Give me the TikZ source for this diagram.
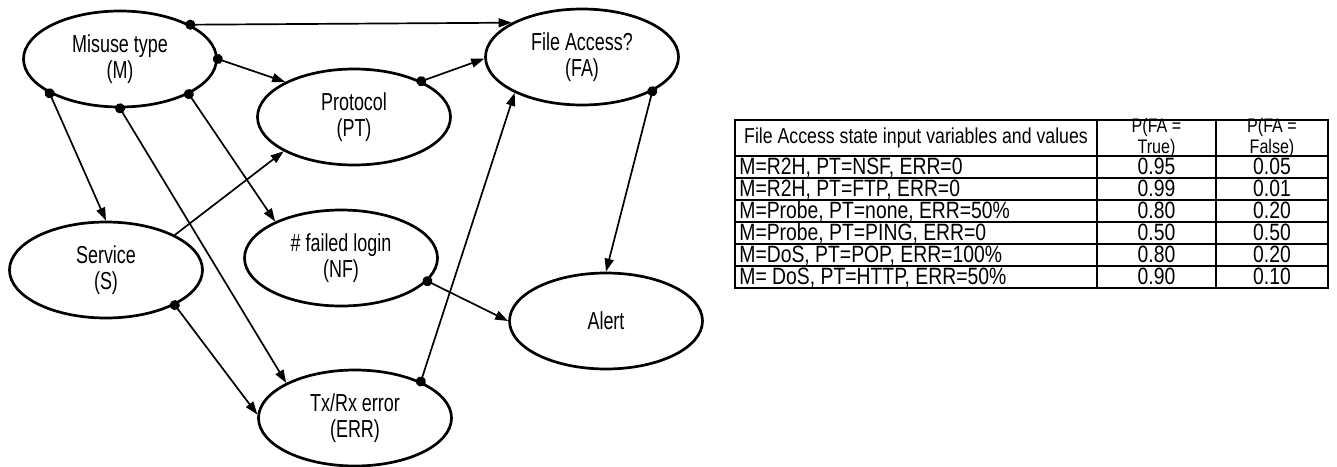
\documentclass[tikz,border=0pt]{standalone}
\usepackage{fontspec}
\setmainfont{Liberation Sans}[FakeStretch=0.82]
\newfontfamily\graphfont{Liberation Sans}[FakeStretch=0.73]
\usetikzlibrary{arrows.meta,shapes.geometric}
\begin{document}
\begin{tikzpicture}[x=0.5pt,y=-0.5pt,
  ell/.style={ellipse,draw,line width=1.35pt,minimum width=96.5pt,minimum height=48pt,inner sep=0pt,align=center,font=\graphfont\fontsize{12.3pt}{13pt}\selectfont},
  con/.style={line width=0.85pt,{Circle[length=5pt]}-{Triangle[length=6.5pt,width=4.5pt]},shorten <=-2.5pt},
  conn/.style={line width=0.85pt,-{Triangle[length=6.5pt,width=4.5pt]}},
  tline/.style={line width=1.1pt},
  ttext/.style={font=\fontsize{11.8pt}{12pt}\selectfont,inner sep=0pt},
  thead/.style={font=\fontsize{10.8pt}{9.8pt}\selectfont,inner sep=0pt,align=center},
  thead2/.style={font=\fontsize{9.8pt}{8.6pt}\selectfont,inner sep=0pt,align=center}
]
\useasboundingbox (0,0) rectangle (1337,466);
% nodes
\node[ell] (M) at (120,59) {Misuse type\\(M)};
\node[ell] (PT) at (354,117) {Protocol\\(PT)};
\node[ell] (FA) at (582,57) {File Access?\\(FA)};
\node[ell] (S) at (106,270) {Service\\(S)};
\node[ell] (NF) at (341,258) {\# failed login\\(NF)};
\node[ell] (ERR) at (355,418) {Tx/Rx error\\(ERR)};
\node[ell] (AL) at (606,321) {Alert};
% connectors
\draw[con] (M.26) -- (FA.154);
\draw[con] (M.0) -- (PT.153);
\draw[con] (M.206) -- (S.90);
\draw[con] (M.270) -- (ERR.153);
\draw[con] (M.-27) -- (NF.151);
\draw[con] (PT.28) -- (FA.181);
\draw[conn] (S.27) -- (PT.206);
\draw[con] (S.-27) -- (ERR.178);
\draw[con] (ERR.29) -- (FA.208);
\draw[con] (NF.-15) -- (AL.180);
\draw[con] (FA.-26) -- (AL.90);
% table
\draw[tline] (735,120) rectangle (1328,288);
\draw[tline] (1097,120) -- (1097,288);
\draw[tline] (1216,120) -- (1216,288);
\foreach \yy in {156,178,200,222,244,266} \draw[tline] (735,\yy) -- (1328,\yy);
\node[thead] (h1) at (916,138) {File Access state input variables and values};
\node[thead2] (h2) at (1156.5,138) {P(FA =\\True)};
\node[thead2] (h3) at (1272,138) {P(FA =\\False)};
\node[ttext,anchor=base west] (a1) at (739,174.5) {M=R2H, PT=NSF, ERR=0};
\node[ttext,anchor=base west] (a2) at (739,196.5) {M=R2H, PT=FTP, ERR=0};
\node[ttext,anchor=base west] (a3) at (739,218.5) {M=Probe, PT=none, ERR=50\%};
\node[ttext,anchor=base west] (a4) at (739,240.5) {M=Probe, PT=PING, ERR=0};
\node[ttext,anchor=base west] (a5) at (739,262.5) {M=DoS, PT=POP, ERR=100\%};
\node[ttext,anchor=base west] (a6) at (739,284.5) {M= DoS, PT=HTTP, ERR=50\%};
\node[ttext,anchor=base] (b1) at (1156.5,174.5) {0.95};
\node[ttext,anchor=base] (b2) at (1156.5,196.5) {0.99};
\node[ttext,anchor=base] (b3) at (1156.5,218.5) {0.80};
\node[ttext,anchor=base] (b4) at (1156.5,240.5) {0.50};
\node[ttext,anchor=base] (b5) at (1156.5,262.5) {0.80};
\node[ttext,anchor=base] (b6) at (1156.5,284.5) {0.90};
\node[ttext,anchor=base] (c1) at (1272,174.5) {0.05};
\node[ttext,anchor=base] (c2) at (1272,196.5) {0.01};
\node[ttext,anchor=base] (c3) at (1272,218.5) {0.20};
\node[ttext,anchor=base] (c4) at (1272,240.5) {0.50};
\node[ttext,anchor=base] (c5) at (1272,262.5) {0.20};
\node[ttext,anchor=base] (c6) at (1272,284.5) {0.10};
\end{tikzpicture}
\end{document}
